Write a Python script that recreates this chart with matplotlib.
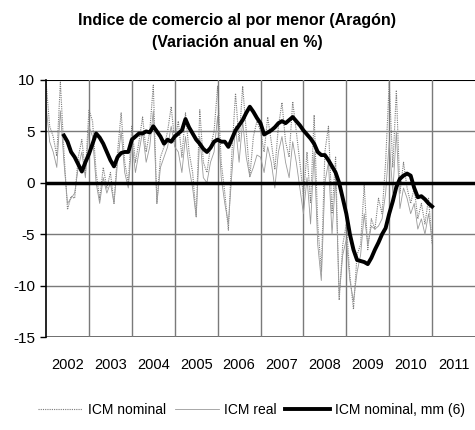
import numpy as np
import matplotlib.pyplot as plt

plt.rcParams['font.family'] = ['Liberation Sans', 'DejaVu Sans']

# Serie mensual, enero 2002 - enero 2011
icm_nominal = [
    9.8, 5.5, 4.5, 2.6, 9.8, 3.0, -2.6, -1.3, -1.5, 2.5, 4.2, 1.0,      # 2002
    7.1, 6.0, 1.0, -1.6, 1.5, -0.5, 1.0, -2.0, 3.0, 6.8, 2.0, 0.0,      # 2003
    5.5, 2.0, 4.0, 6.4, 3.0, 5.0, 9.5, -2.0, 2.5, 3.5, 5.0, 7.4,        # 2004
    4.0, 6.0, 2.5, 6.8, 3.0, 1.0, -3.3, 7.1, 2.0, 1.0, 3.5, 5.0,        # 2005
    9.4, 2.0, -1.0, -4.6, 3.0, 8.7, 4.0, 9.4, 5.0, 0.6, 4.5, 6.0,       # 2006
    5.0, 3.0, 6.4, 4.0, 1.3, 5.5, 7.8, 4.0, 2.5, 7.9, 5.0, 2.0,         # 2007
    -1.3, 3.0, -2.0, 6.6, -4.0, -8.6, 3.0, 5.5, -3.0, 2.5, -11.4, -6.0, # 2008
    -4.0, -9.0, -12.3, -7.0, -6.0, -0.2, -6.5, -3.5, -4.5, -1.5, -3.0, 2.0,  # 2009
    9.8, 1.5, 9.0, -1.0, 2.0, -0.5, -2.0, -0.5, -3.5, -2.0, -4.0, -1.5,  # 2010
    -6.0,                                                               # 2011
]

icm_real = [
    7.5, 4.0, 3.0, 1.5, 7.0, 2.0, -2.0, -1.5, -1.0, 1.5, 3.0, 0.5,
    5.5, 4.5, 0.0, -2.0, 0.5, -1.0, 0.0, -2.0, 2.0, 5.0, 1.0, -0.5,
    4.0, 1.0, 3.0, 5.0, 2.0, 3.5, 7.0, -2.0, 1.5, 2.5, 3.5, 5.5,
    3.5, 3.0, 1.0, 4.5, 1.5, -0.5, -3.3, 4.5, 0.5, 0.0, 2.0, 3.0,
    6.5, 0.5, -2.0, -4.0, 1.0, 5.5, 2.0, 6.0, 2.5, 0.6, 1.5, 2.7,
    2.5, 1.0, 3.5, 2.0, -0.5, 3.0, 4.5, 2.0, 0.5, 4.0, 2.0, -0.5,
    -3.0, 0.5, -4.0, 3.0, -6.0, -9.5, 0.0, 2.0, -5.0, 0.5, -11.0, -7.0,
    -5.5, -9.5, -11.5, -8.7, -7.0, -3.0, -6.0, -4.2, -4.5, -4.2, -3.5, -1.0,
    4.0, -1.0, 5.0, -2.5, -0.5, -1.5, -3.0, -2.0, -4.5, -3.5, -5.0, -3.0,
    -5.5,
]

# media movil de 6 meses, desde junio 2002
icm_mm6 = [
    np.nan, np.nan, np.nan, np.nan, np.nan, 4.6, 4.0, 3.0, 2.5, 1.8, 1.1, 2.0,
    2.8, 3.8, 4.8, 4.4, 3.8, 3.0, 2.2, 1.6, 2.5, 2.9, 3.0, 3.0,
    4.2, 4.5, 4.8, 4.8, 5.0, 4.9, 5.5, 5.0, 4.5, 3.8, 4.2, 4.0,
    4.5, 4.8, 5.1, 6.2, 5.4, 4.8, 4.2, 3.8, 3.3, 3.0, 3.4, 4.0,
    4.2, 4.0, 4.0, 3.5, 4.3, 5.1, 5.6, 6.1, 6.8, 7.4, 6.9, 6.3,
    5.8, 4.7, 4.9, 5.1, 5.4, 5.8, 6.0, 5.8, 6.1, 6.4, 6.0, 5.6,
    5.1, 4.7, 4.3, 3.8, 3.0, 2.7, 2.7, 2.2, 1.6, 1.0, 0.0, -1.5,
    -3.0, -5.0, -6.5, -7.5, -7.6, -7.7, -7.9, -7.3, -6.5, -5.8, -5.0, -4.4,
    -3.0, -1.8, -0.4, 0.4, 0.7, 0.9, 0.7, -0.5, -1.4, -1.3, -1.6, -2.0,
    -2.3,
]

years = list(range(2002, 2012))
year_labels = [str(y) for y in years]

x = 2002 + np.arange(len(icm_nominal)) / 12.0

fig = plt.figure(figsize=(4.75, 4.3), dpi=100)
ax = fig.add_axes([0.097, 0.216, 0.903, 0.598])

# rejilla
for v in [5, -5, -10]:
    ax.axhline(v, color='#7a7a7a', lw=1.0, zorder=1)
ax.axhline(10, color='black', lw=1.5, zorder=1)
ax.axhline(-15, color='#555555', lw=1.2, zorder=1)
for yv in years[1:]:
    ax.axvline(yv, color='#7a7a7a', lw=1.0, zorder=1)

ax.plot(x, icm_nominal, color='#7a7a7a', lw=0.8, ls=(0, (1, 1)), label='ICM nominal', zorder=2)
ax.plot(x, icm_real, color='#9a9a9a', lw=0.6, label='ICM real', zorder=2)
ax.axhline(0, color='black', lw=2.5, zorder=3)
ax.plot(x, icm_mm6, color='black', lw=2.8, label='ICM nominal, mm (6)', zorder=4)

ax.set_xlim(2002, 2012)
ax.set_ylim(-15, 10)
ax.set_yticks([10, 5, 0, -5, -10, -15])
ax.set_yticklabels(['10', '5', '0', '-5', '-10', '-15'], fontsize=11)
ax.set_xticks([y + 0.5 for y in years])
ax.set_xticklabels(year_labels, fontsize=10.5)
ax.tick_params(axis='x', length=0, pad=15)
ax.tick_params(axis='y', length=4, width=1, pad=4)

for s in ['top', 'right', 'bottom']:
    ax.spines[s].set_visible(False)
ax.spines['left'].set_linewidth(1.2)

fig.text(0.5, 0.953, 'Indice de comercio al por menor (Aragón)', ha='center', va='center',
         fontsize=11.5, fontweight='bold')
fig.text(0.5, 0.902, '(Variación anual en %)', ha='center', va='center',
         fontsize=11.5, fontweight='bold')

fig.legend(loc='center', bbox_to_anchor=(0.53, 0.047), ncol=3, frameon=False,
           fontsize=10, handlelength=3.2, columnspacing=0.6, handletextpad=0.4)

fig.savefig('out.png', dpi=100)
